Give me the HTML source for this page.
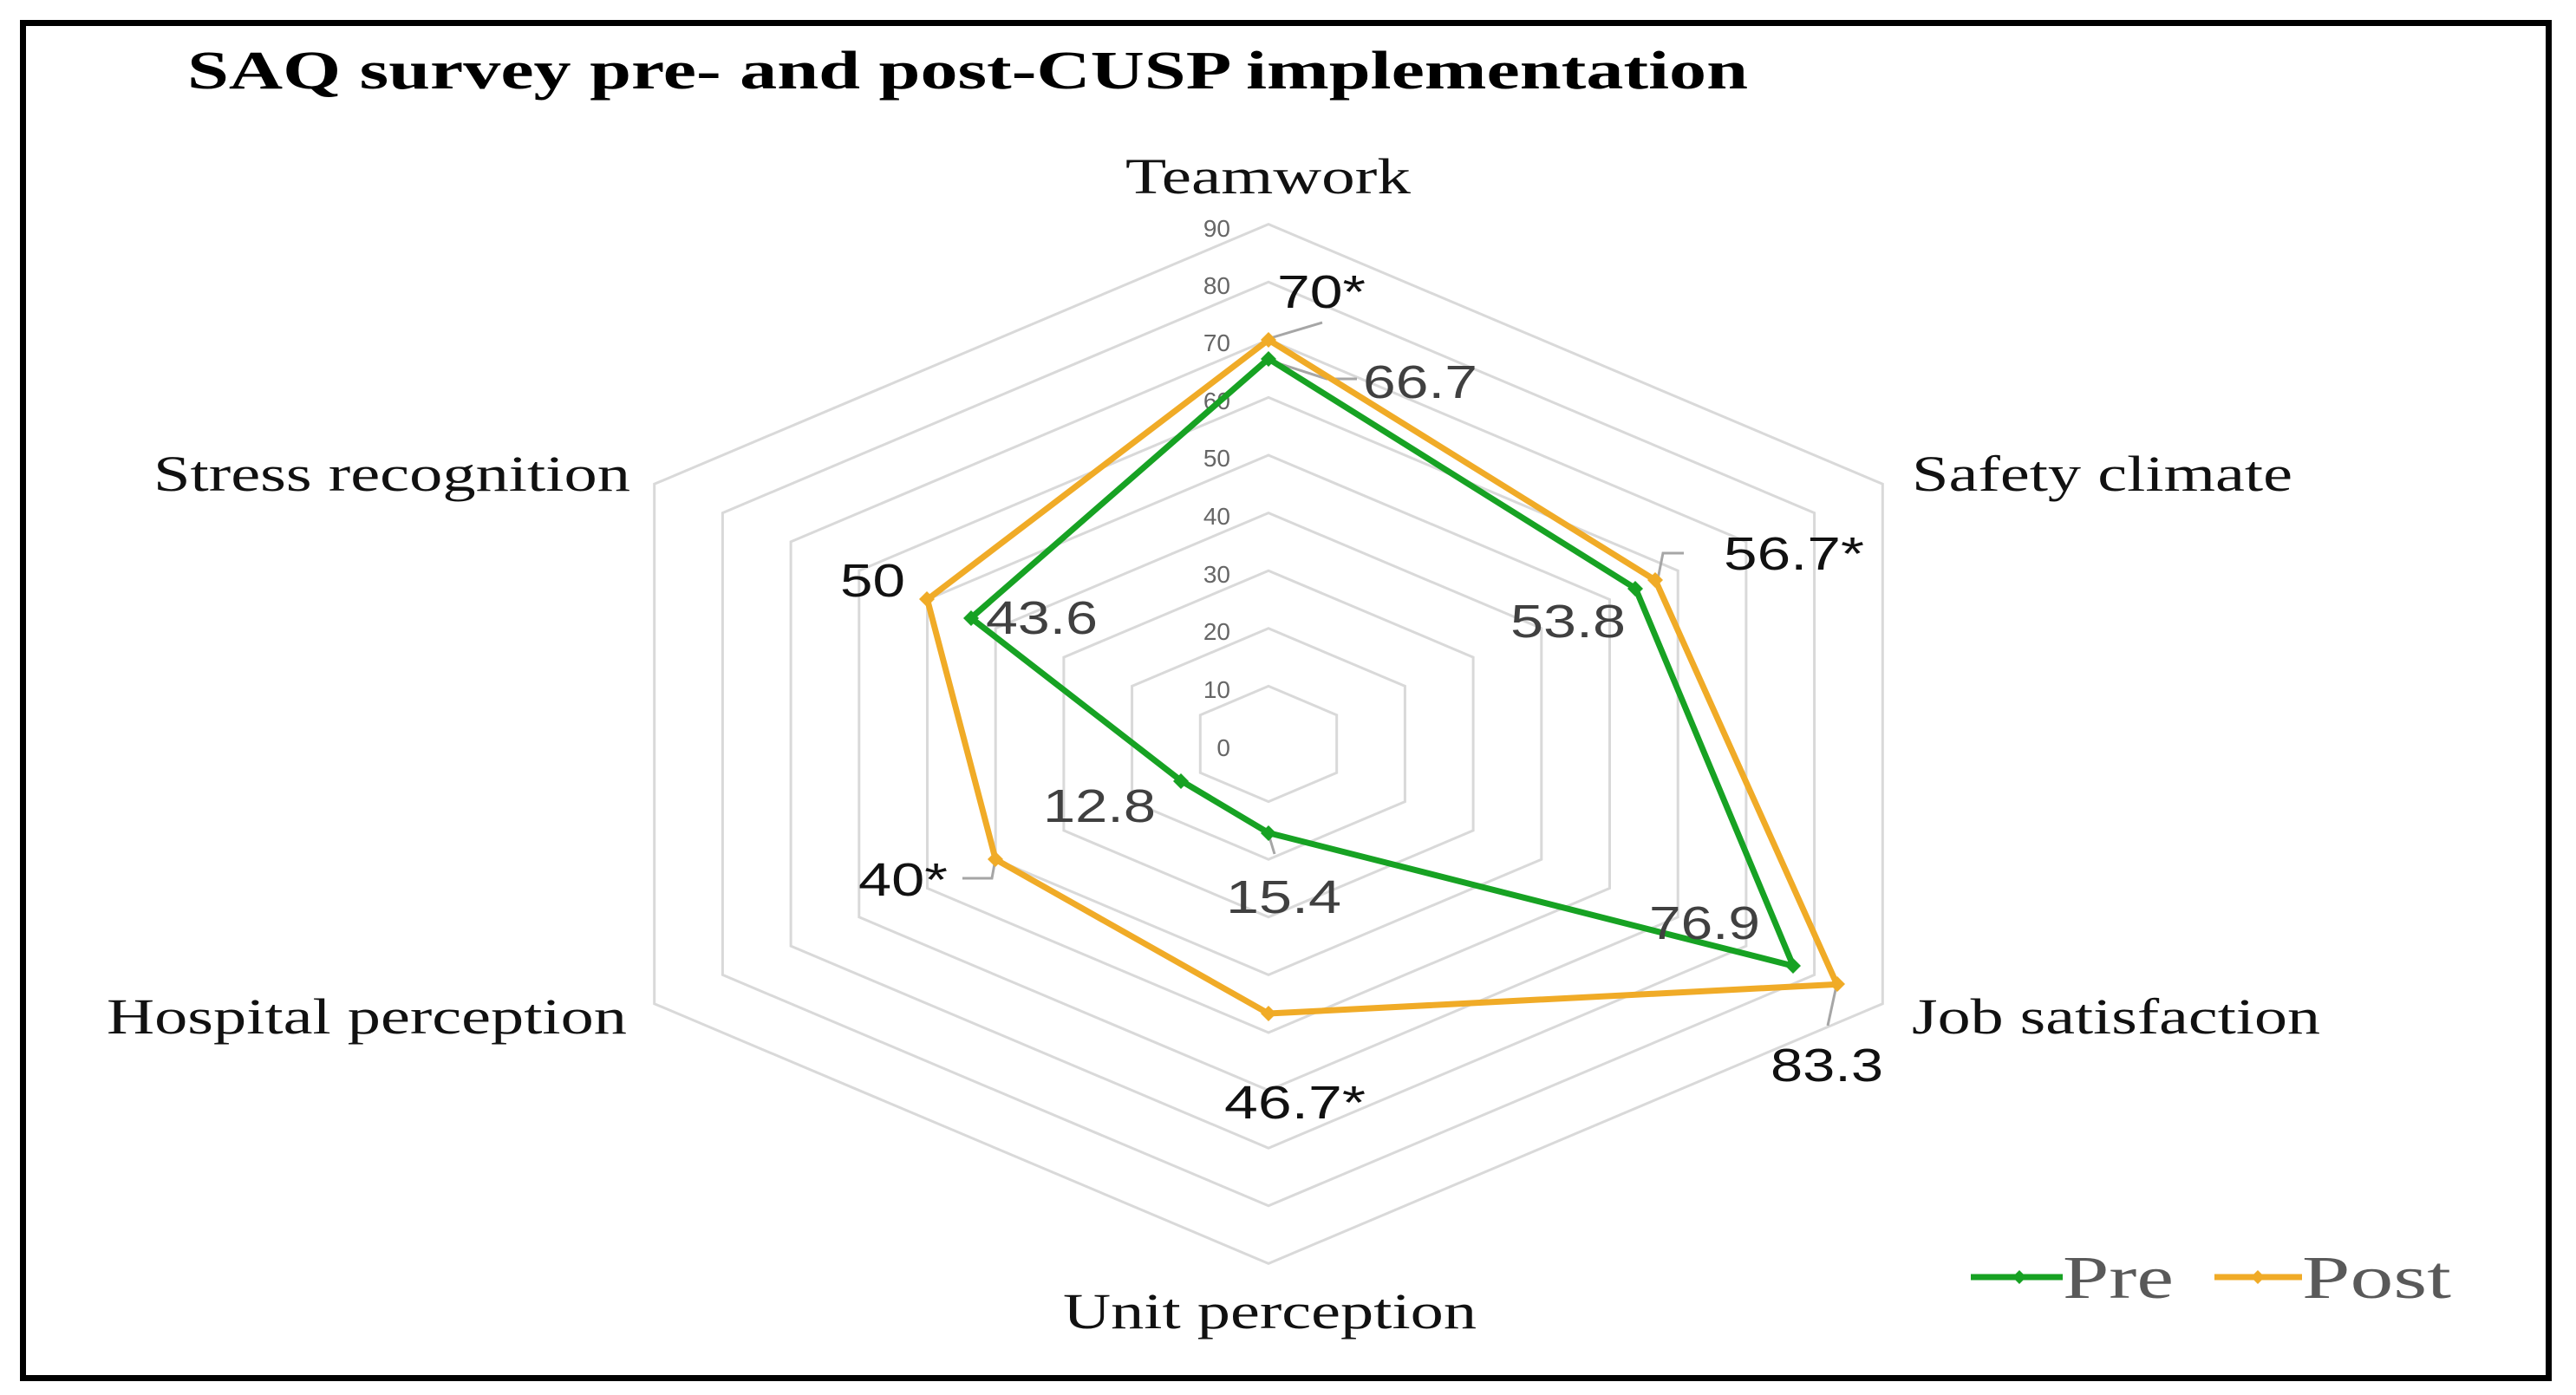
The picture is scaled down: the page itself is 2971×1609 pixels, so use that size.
<!DOCTYPE html>
<html><head><meta charset="utf-8">
<style>
html,body{margin:0;padding:0;background:#fff;}
svg{display:block;}
.cat{font-family:"Liberation Serif",serif;font-size:58px;fill:#111;}
.dl{font-family:"Liberation Sans",sans-serif;font-size:54px;}
.tk{font-family:"Liberation Sans",sans-serif;font-size:28px;fill:#666;text-anchor:end;}
</style></head>
<body>
<svg width="2971" height="1609" viewBox="0 0 2971 1609" xmlns="http://www.w3.org/2000/svg">
<rect x="0" y="0" width="2971" height="1609" fill="#fff"/>
<rect x="26.5" y="26.5" width="2913" height="1563" fill="none" stroke="#000" stroke-width="7"/>
<text x="216" y="102" font-family="Liberation Serif, serif" font-weight="bold" font-size="62" textLength="1800" lengthAdjust="spacingAndGlyphs" fill="#000">SAQ survey pre- and post-CUSP implementation</text>

<g transform="translate(1463,858)" fill="none" stroke="#d9d9d9" stroke-width="3">
<polygon vector-effect="non-scaling-stroke" transform="scale(10)" points="0,-6.66 7.87,-3.33 7.87,3.33 0,6.66 -7.87,3.33 -7.87,-3.33"/>
<polygon vector-effect="non-scaling-stroke" transform="scale(20)" points="0,-6.66 7.87,-3.33 7.87,3.33 0,6.66 -7.87,3.33 -7.87,-3.33"/>
<polygon vector-effect="non-scaling-stroke" transform="scale(30)" points="0,-6.66 7.87,-3.33 7.87,3.33 0,6.66 -7.87,3.33 -7.87,-3.33"/>
<polygon vector-effect="non-scaling-stroke" transform="scale(40)" points="0,-6.66 7.87,-3.33 7.87,3.33 0,6.66 -7.87,3.33 -7.87,-3.33"/>
<polygon vector-effect="non-scaling-stroke" transform="scale(50)" points="0,-6.66 7.87,-3.33 7.87,3.33 0,6.66 -7.87,3.33 -7.87,-3.33"/>
<polygon vector-effect="non-scaling-stroke" transform="scale(60)" points="0,-6.66 7.87,-3.33 7.87,3.33 0,6.66 -7.87,3.33 -7.87,-3.33"/>
<polygon vector-effect="non-scaling-stroke" transform="scale(70)" points="0,-6.66 7.87,-3.33 7.87,3.33 0,6.66 -7.87,3.33 -7.87,-3.33"/>
<polygon vector-effect="non-scaling-stroke" transform="scale(80)" points="0,-6.66 7.87,-3.33 7.87,3.33 0,6.66 -7.87,3.33 -7.87,-3.33"/>
<polygon vector-effect="non-scaling-stroke" transform="scale(90)" points="0,-6.66 7.87,-3.33 7.87,3.33 0,6.66 -7.87,3.33 -7.87,-3.33"/>
</g>

<g class="tk">
<text x="1419" y="872">0</text>
<text x="1419" y="805">10</text>
<text x="1419" y="738">20</text>
<text x="1419" y="672">30</text>
<text x="1419" y="605">40</text>
<text x="1419" y="538">50</text>
<text x="1419" y="472">60</text>
<text x="1419" y="405">70</text>
<text x="1419" y="339">80</text>
<text x="1419" y="273">90</text>
</g>

<!-- leader lines -->
<g stroke="#a6a6a6" stroke-width="3" fill="none">
<polyline points="1465,390 1525,372"/>
<polyline points="1465,416 1530,437 1565,437"/>
<polyline points="1912,668 1918,638 1942,638"/>
<polyline points="1148,991 1144,1013 1110,1013"/>
<polyline points="1463,962 1470,985"/>
<polyline points="2118,1137 2108,1183"/>
</g>

<!-- Post -->
<polygon points="1463,392 1909.2,669.2 2118.6,1135.4 1463,1169 1148.2,991.2 1069.5,691.5" fill="none" stroke="#f0ab27" stroke-width="7" stroke-linejoin="round"/>
<g fill="#f0ab27">
<polygon points="1463,383 1472,392 1463,401 1454,392"/>
<polygon points="1909,660 1918,669 1909,678 1900,669"/>
<polygon points="2119,1126 2128,1135 2119,1144 2110,1135"/>
<polygon points="1463,1160 1472,1169 1463,1178 1454,1169"/>
<polygon points="1148,982 1157,991 1148,1000 1139,991"/>
<polygon points="1069,682 1078,691 1069,700 1060,691"/>
</g>
<!-- Pre -->
<polygon points="1463,413.8 1886.4,678.8 2068.2,1114.1 1463,960.6 1362.3,900.6 1119.9,712.8" fill="none" stroke="#17a223" stroke-width="7" stroke-linejoin="round"/>
<g fill="#17a223">
<polygon points="1463,405 1472,414 1463,423 1454,414"/>
<polygon points="1886,670 1895,679 1886,688 1877,679"/>
<polygon points="2068,1105 2077,1114 2068,1123 2059,1114"/>
<polygon points="1463,952 1472,961 1463,970 1454,961"/>
<polygon points="1362,892 1371,901 1362,910 1353,901"/>
<polygon points="1120,704 1129,713 1120,722 1111,713"/>
</g>

<!-- data labels -->
<g class="dl">
<text x="1473" y="355" fill="#111" textLength="102" lengthAdjust="spacingAndGlyphs">70*</text>
<text x="1572" y="459" fill="#404040" textLength="132" lengthAdjust="spacingAndGlyphs">66.7</text>
<text x="1988" y="657" fill="#111" textLength="162" lengthAdjust="spacingAndGlyphs">56.7*</text>
<text x="1742" y="735" fill="#404040" textLength="133" lengthAdjust="spacingAndGlyphs">53.8</text>
<text x="969" y="688" fill="#111" textLength="75" lengthAdjust="spacingAndGlyphs">50</text>
<text x="1137" y="731" fill="#404040" textLength="129" lengthAdjust="spacingAndGlyphs">43.6</text>
<text x="1203" y="948" fill="#404040" textLength="130" lengthAdjust="spacingAndGlyphs">12.8</text>
<text x="990" y="1033" fill="#111" textLength="103" lengthAdjust="spacingAndGlyphs">40*</text>
<text x="1414" y="1053" fill="#404040" textLength="133" lengthAdjust="spacingAndGlyphs">15.4</text>
<text x="1412" y="1290" fill="#111" textLength="163" lengthAdjust="spacingAndGlyphs">46.7*</text>
<text x="1902" y="1083" fill="#404040" textLength="128" lengthAdjust="spacingAndGlyphs">76.9</text>
<text x="2042" y="1247" fill="#111" textLength="130" lengthAdjust="spacingAndGlyphs">83.3</text>
</g>

<!-- category labels -->
<g class="cat">
<text x="1298" y="223" textLength="329" lengthAdjust="spacingAndGlyphs">Teamwork</text>
<text x="2205" y="566" textLength="439" lengthAdjust="spacingAndGlyphs">Safety climate</text>
<text x="177" y="566" textLength="550" lengthAdjust="spacingAndGlyphs">Stress recognition</text>
<text x="123" y="1192" textLength="600" lengthAdjust="spacingAndGlyphs">Hospital perception</text>
<text x="2205" y="1192" textLength="471" lengthAdjust="spacingAndGlyphs">Job satisfaction</text>
<text x="1226" y="1532" textLength="477" lengthAdjust="spacingAndGlyphs">Unit perception</text>
</g>

<!-- legend -->
<line x1="2273" y1="1473" x2="2379" y2="1473" stroke="#17a223" stroke-width="7"/>
<polygon points="2329,1465 2337,1473 2329,1481 2321,1473" fill="#17a223"/>
<text x="2379" y="1497" font-family="Liberation Serif, serif" font-size="70" fill="#595959" textLength="128" lengthAdjust="spacingAndGlyphs">Pre</text>
<line x1="2554" y1="1473" x2="2655" y2="1473" stroke="#f0ab27" stroke-width="7"/>
<polygon points="2604,1465 2612,1473 2604,1481 2596,1473" fill="#f0ab27"/>
<text x="2655" y="1497" font-family="Liberation Serif, serif" font-size="70" fill="#595959" textLength="172" lengthAdjust="spacingAndGlyphs">Post</text>
</svg>
</body></html>
